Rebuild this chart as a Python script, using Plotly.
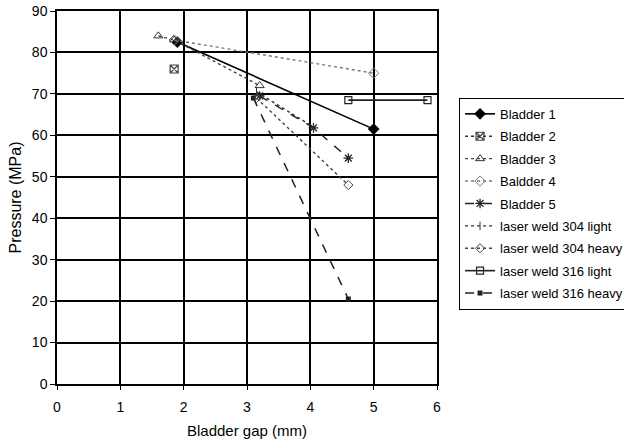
import plotly.graph_objects as go

# Data
b1_x = [1.9, 5.0]
b1_y = [82.5, 61.5]
b2_x = [1.85]
b2_y = [76]
b3_x = [1.6, 1.85, 3.2]
b3_y = [84, 83, 72]
b4_x = [1.85, 5.0]
b4_y = [83, 75]
b5_x = [3.2, 4.05, 4.6]
b5_y = [69.5, 61.8, 54.5]
lw304l_x = [3.15, 4.05]
lw304l_y = [70.5, 62]
lw304h_x = [3.15, 4.6]
lw304h_y = [69, 48]
lw316l_x = [4.6, 5.85]
lw316l_y = [68.5, 68.5]
lw316h_x = [3.1, 4.6]
lw316h_y = [69, 20.5]

x_ticks = [0, 1, 2, 3, 4, 5, 6]
y_ticks = [0, 10, 20, 30, 40, 50, 60, 70, 80, 90]

series = [
    ("Bladder 1", b1_x, b1_y, dict(color="black", width=1.6, dash="solid"),
     dict(symbol="diamond", size=9, color="black")),
    ("Bladder 2", b2_x, b2_y, dict(color="#333", width=1.4, dash="dot"),
     dict(symbol="square-x-open", size=8, color="#444", line=dict(width=1.2, color="#444"))),
    ("Bladder 3", b3_x, b3_y, dict(color="#444", width=1.4, dash="dot"),
     dict(symbol="triangle-up-open", size=8, color="#333", line=dict(width=1, color="#333"))),
    ("Baldder 4", b4_x, b4_y, dict(color="#777", width=1.4, dash="dot"),
     dict(symbol="diamond-open", size=8, color="#777", line=dict(width=1, color="#777"))),
    ("Bladder 5", b5_x, b5_y, dict(color="#222", width=1.4, dash="dash"),
     dict(symbol="asterisk-open", size=8, color="#222", line=dict(width=1.3, color="#222"))),
    ("laser weld 304 light", lw304l_x, lw304l_y, dict(color="#333", width=1.4, dash="dot"),
     dict(symbol="line-ns-open", size=6, color="#333", line=dict(width=1, color="#333"))),
    ("laser weld 304 heavy", lw304h_x, lw304h_y, dict(color="#444", width=1.4, dash="dot"),
     dict(symbol="diamond-open", size=7, color="#444", line=dict(width=1, color="#444"))),
    ("laser weld 316 light", lw316l_x, lw316l_y, dict(color="#222", width=1.6, dash="solid"),
     dict(symbol="square-open", size=7, color="#222", line=dict(width=1.2, color="#222"))),
    ("laser weld 316 heavy", lw316h_x, lw316h_y, dict(color="#222", width=1.5, dash="dash"),
     dict(symbol="square", size=5, color="#222")),
]

fig = go.Figure()
for name, xs, ys, ln, mk in series:
    fig.add_trace(go.Scatter(x=xs, y=ys, name=name, mode="lines+markers",
                             line=ln, marker=mk, legendgroup=name))

font = "Liberation Sans, Arial, sans-serif"
fig.update_layout(
    width=624, height=444,
    margin=dict(l=57, r=187, t=11, b=60, autoexpand=False),
    paper_bgcolor="white", plot_bgcolor="white",
    font=dict(family=font, size=14, color="black"),
    showlegend=True,
    legend=dict(x=1.058, y=0.767, xanchor="left", yanchor="top",
                bordercolor="black", borderwidth=1,
                font=dict(size=13, family=font),
                tracegroupgap=2.5, itemwidth=30),
    xaxis=dict(range=[0, 6], tickvals=x_ticks, showgrid=True, gridcolor="black",
               gridwidth=1.5, showline=True, linecolor="black", linewidth=1.5,
               mirror=True, ticks="outside", ticklen=4, tickcolor="black",
               zeroline=False, automargin=False, ticklabelstandoff=5,
               title=dict(text="Bladder gap (mm)", standoff=12, font=dict(size=15)),
               tickfont=dict(size=14)),
    yaxis=dict(range=[0, 90], tickvals=y_ticks, showgrid=True, gridcolor="black",
               gridwidth=1.5, showline=True, linecolor="black", linewidth=1.5,
               mirror=True, ticks="outside", ticklen=5, tickcolor="black",
               zeroline=False, automargin=False,
               title=dict(text="Pressure (MPa)", standoff=6, font=dict(size=16)),
               tickfont=dict(size=14)),
)

fig.write_html("out.html", config={"displayModeBar": False},
               post_script="document.body.style.margin='0';")
